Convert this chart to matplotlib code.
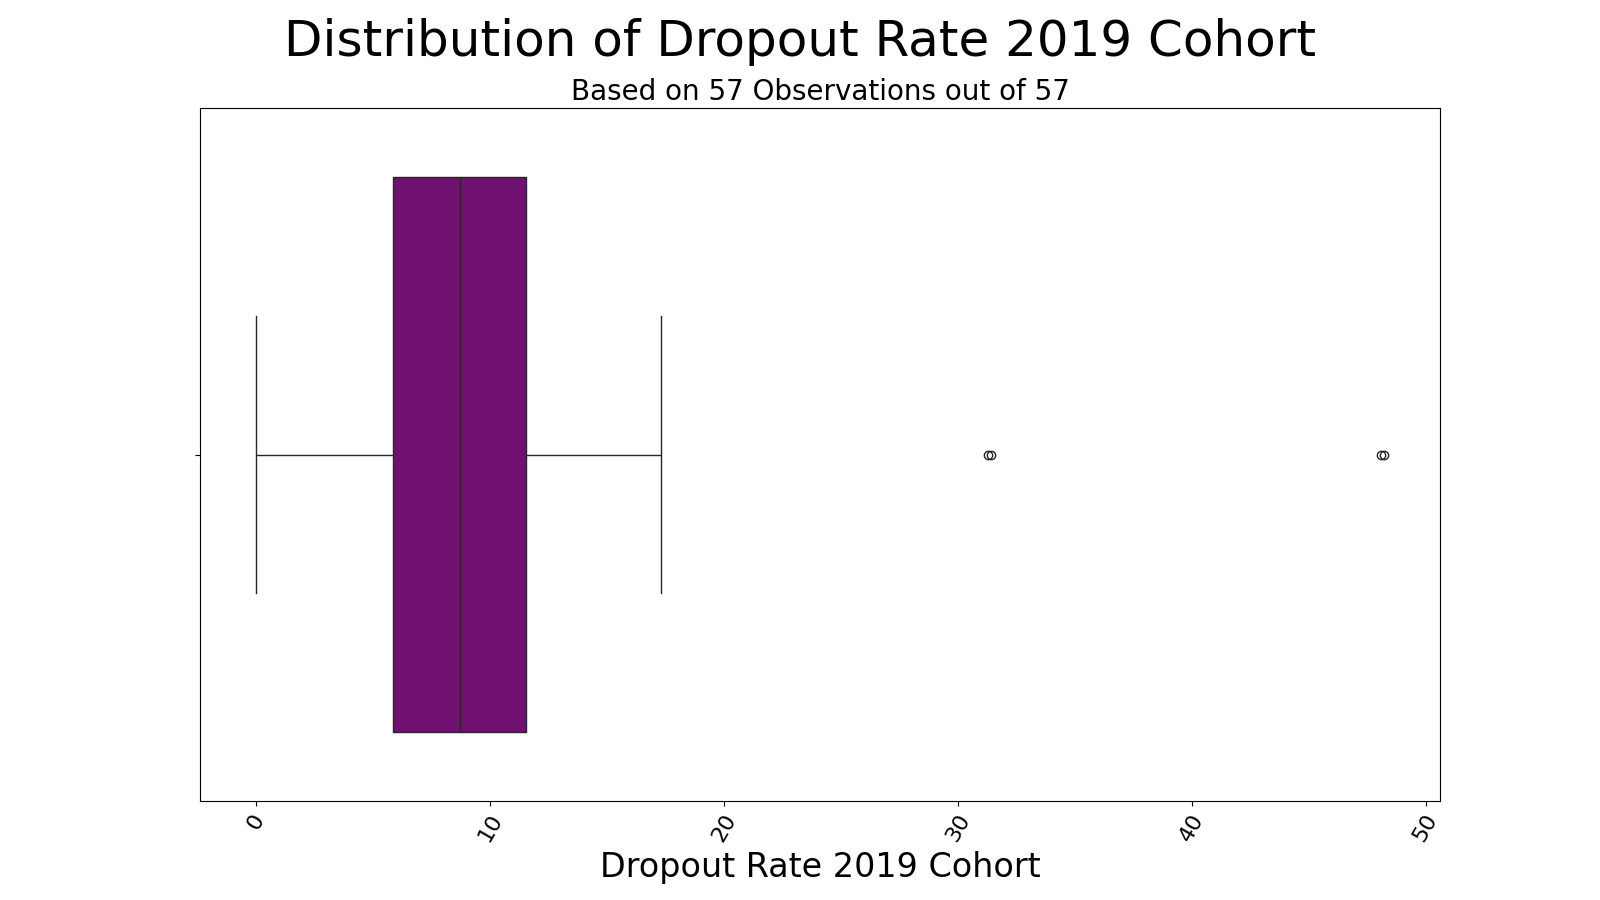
import matplotlib
matplotlib.use("Agg")
import matplotlib.pyplot as plt
import seaborn as sns
import numpy as np

dropout_rate_2019 = [
    0.0, 1.2, 2.5, 3.1, 3.6, 4.0, 4.3, 4.6, 4.9, 5.1, 5.3, 5.5, 5.6, 5.75,
    5.84,
    6.0, 6.2, 6.4, 6.6, 6.8, 7.0, 7.2, 7.4, 7.7, 7.9, 8.1, 8.3, 8.5,
    8.72,
    8.9, 9.1, 9.3, 9.5, 9.7, 9.9, 10.1, 10.3, 10.5, 10.8, 11.0, 11.2, 11.4,
    11.51,
    11.8, 12.2, 12.7, 13.1, 13.6, 14.2, 14.9, 15.6, 16.4,
    17.31,
    31.3, 31.4, 48.1, 48.2,
]
n_obs = len(dropout_rate_2019)
n_total = 57

fig, ax = plt.subplots(figsize=(16, 9), dpi=100)
sns.boxplot(x=dropout_rate_2019, color="purple", ax=ax)
fig.suptitle("Distribution of Dropout Rate 2019 Cohort", fontsize=36, y=0.98)
ax.set_title(f"Based on {n_obs} Observations out of {n_total}", fontsize=20)
ax.set_xlabel("Dropout Rate 2019 Cohort", fontsize=24)
ax.tick_params(axis="x", labelsize=16, labelrotation=60)
fig.savefig("out.png", dpi=100)
